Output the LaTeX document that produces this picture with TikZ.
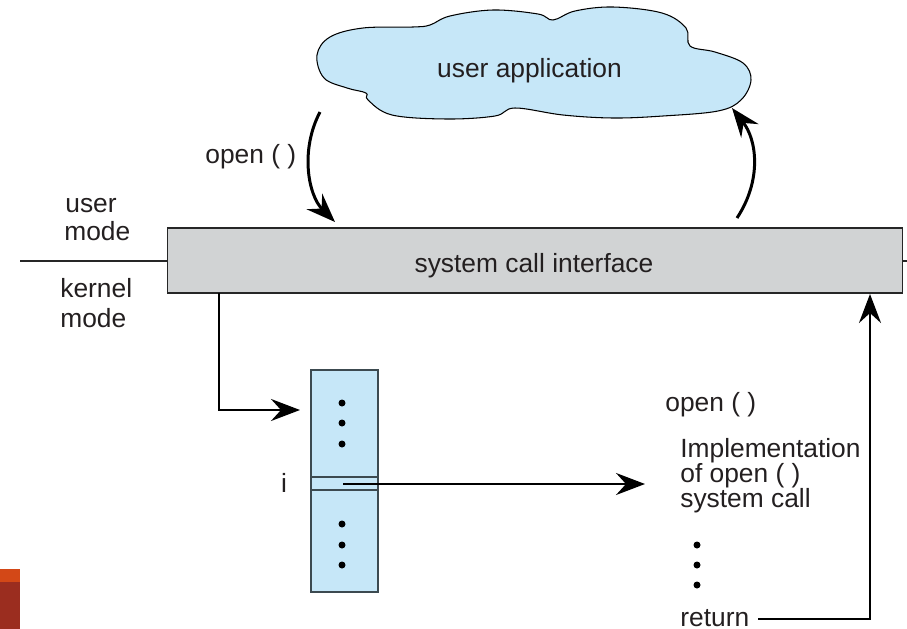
\documentclass[tikz,border=0pt]{standalone}
\usepackage{fontspec}
\setmainfont{Liberation Sans}
\usetikzlibrary{arrows.meta}
\definecolor{cloudblue}{HTML}{C6E7F8}
\definecolor{bargray}{HTML}{D1D3D4}
\definecolor{edgegray}{HTML}{3C4A50}
\definecolor{txt}{HTML}{231F20}
\definecolor{accentorange}{HTML}{D34817}
\definecolor{accentred}{HTML}{9B2D1F}
\begin{document}
\begin{tikzpicture}[x=0.02cm, y=-0.02cm,
  font=\fontsize{15}{17.6}\selectfont,
  lbl/.style={inner sep=0, text=txt},
  barbox/.style={draw=black!85, line width=0.6pt, fill=bargray,
    minimum width=14.72cm, minimum height=1.3cm, inner sep=0},
  tablebox/.style={draw=edgegray, line width=0.7pt, fill=cloudblue,
    minimum width=1.34cm, minimum height=4.44cm, inner sep=0},
  flow/.style={line width=1.7pt, line join=miter,
    -{Stealth[length=0.58cm, width=0.44cm, inset=0.2cm]}},
  thinflow/.style={line width=1.3pt,
    -{Stealth[length=0.58cm, width=0.44cm, inset=0.2cm]}},
  dot/.style={circle, fill=black, inner sep=0, minimum size=0.14cm}]
\useasboundingbox (0,0) rectangle (907,629);

% corner accent
\fill[accentred] (0,582) rectangle (20,629);
\fill[accentorange] (0,569) rectangle (20,582);

% user/kernel boundary
\draw[line width=0.6pt, black!85] (20,261) -- (907,261);

% cloud
\draw[line width=0.6pt, fill=cloudblue]
  plot[smooth cycle, tension=0.6] coordinates {
    (317,55) (330,37) (363,28) (413,27) (430,25) (450,16) (493,10) (538,14)
    (553,20) (575,11) (613,7) (662,13) (686,28) (690,46) (715,52) (743,63)
    (751,80) (741,100) (718,111) (663,116) (613,118) (563,115) (515,108)
    (495,116) (447,119) (392,115) (368,100) (366,93) (347,88) (324,78)};
\node[lbl, anchor=base] (app) at (529.5,77) {user application};

% system call interface
\node[barbox] (sci) at (535,260.5) {};
\node[lbl, anchor=base] (scitext) at (534,272) {system call interface};

% mode labels
\node[lbl, anchor=base west] (um1) at (65,212) {user};
\node[lbl, anchor=base west] (um2) at (64,240) {mode};
\node[lbl, anchor=base west] (km1) at (60,297) {kernel};
\node[lbl, anchor=base west] (km2) at (60,327) {mode};

% call and return between application and interface
\node[lbl, anchor=base west] (opencall) at (205,163) {open ( )};
\coordinate (appout) at (320,112);
\coordinate (sciin) at (335,222);
\coordinate (sciout) at (737,218);
\coordinate (appin) at (732,108);
\draw[flow] (appout) .. controls (300,150) and (308,195) .. (sciin);
\draw[flow] (sciout) .. controls (762,180) and (757,140) .. (appin);

% system call table
\node[tablebox] (tab) at (344.5,481) {};
\draw[line width=0.7pt, edgegray] (311,477) -- (378,477) (311,490) -- (378,490);
\foreach \y [count=\k] in {403,423,444,524,545,565}
  \node[dot] (td\k) at (342,\y) {};
\node[lbl, anchor=base] (idx) at (284,492) {i};

% dispatch into the table
\coordinate (scidown) at (219,293);
\coordinate (tabin) at (300,410);
\draw[flow] (scidown) |- (tabin);

% entry i points at the implementation
\coordinate (rowi) at (343,484);
\coordinate (implin) at (645,484);
\draw[thinflow] (rowi) -- (implin);

% implementation of open()
\node[lbl, anchor=base west] (openname) at (665,411) {open ( )};
\node[lbl, anchor=base west] (impl1) at (680,457) {Implementation};
\node[lbl, anchor=base west] (impl2) at (680,482) {of open ( )};
\node[lbl, anchor=base west] (impl3) at (680,507) {system call};
\foreach \y [count=\k] in {545,565,585}
  \node[dot] (id\k) at (697,\y) {};
\node[lbl, anchor=base west] (ret) at (680,626) {return};

% return to the interface
\coordinate (retout) at (758,619);
\coordinate (sciback) at (870,294);
\draw[flow] (retout) -| (sciback);
\end{tikzpicture}
\end{document}
